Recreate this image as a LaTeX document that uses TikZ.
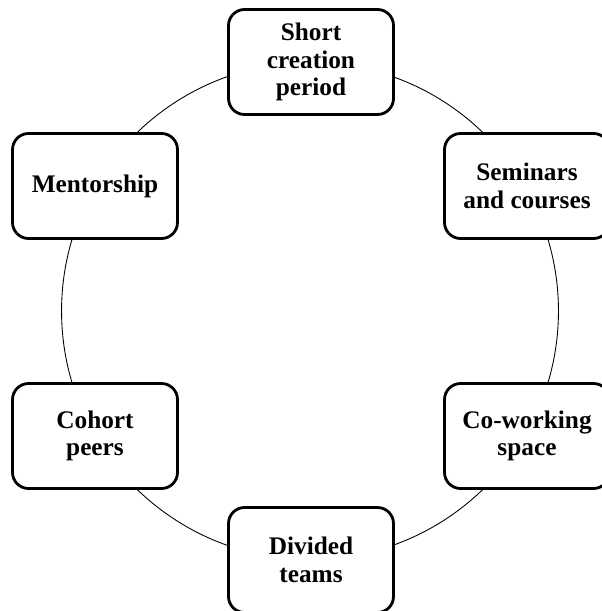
\documentclass[tikz,border=0pt]{standalone}
\usepackage{fontspec}
\setmainfont{Liberation Serif}
\usepackage{tikz}
\usetikzlibrary{positioning}

\tikzset{
  stage/.style={draw,line width=1.6pt,rounded corners=0.32cm,fill=white,
    minimum width=3.3cm,minimum height=2.1cm,align=center,
    font=\fontsize{14.4}{15.6}\selectfont\bfseries},
}

\begin{document}
\begin{tikzpicture}[x=0.02cm,y=-0.02cm]
  \useasboundingbox (0,0) rectangle (601,611);
  \coordinate (hub) at (310,311);
  \draw[line width=0.5pt] (hub) circle (4.97cm);
  \node[stage] (short)    at (311,62)  {Short\\creation\\period};
  \node[stage] (seminars) at (527,186) {Seminars\\and courses};
  \node[stage] (cowork)   at (527,436) {Co-working\\space};
  \node[stage] (divided)  at (311,560) {Divided\\teams};
  \node[stage] (cohort)   at (95,436)  {Cohort\\peers};
  \node[stage] (mentor)   at (95,186)  {Mentorship};
\end{tikzpicture}
\end{document}
